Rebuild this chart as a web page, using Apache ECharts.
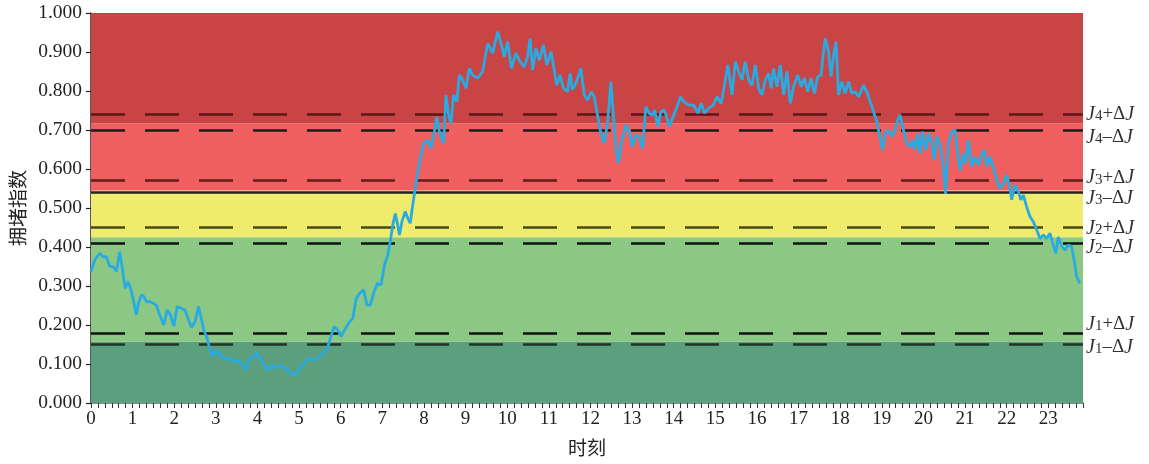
<!DOCTYPE html>
<html><head><meta charset="utf-8">
<script src="https://cdn.jsdelivr.net/npm/echarts@6/dist/echarts.min.js"></script>
<style>html,body{margin:0;padding:0;background:#fff}#c{width:1149px;height:464px}</style>
</head><body><div id="c"></div>
<script>
// time of day (hours)
const hours = [0,0.09,0.21,0.29,0.37,0.45,0.53,0.61,0.69,0.77,0.82,0.89,0.95,1.01,1.09,1.14,1.21,1.27,1.33,1.41,1.49,1.57,1.65,1.75,1.83,1.91,1.99,2.07,2.17,2.26,2.33,2.41,2.50,2.58,2.65,2.71,2.79,2.85,2.93,3.01,3.09,3.17,3.25,3.33,3.41,3.53,3.62,3.73,3.80,3.88,4.00,4.08,4.16,4.24,4.36,4.44,4.56,
4.65,4.77,4.89,5.01,5.13,5.23,5.33,5.45,5.57,5.68,5.75,5.84,5.93,6.01,6.09,6.21,6.29,6.37,6.45,6.55,6.63,6.71,6.80,6.88,6.97,7.05,7.13,7.19,7.25,7.31,7.37,7.41,7.47,7.55,7.61,7.67,7.73,7.79,7.85,7.91,7.99,8.09,8.17,8.25,8.31,8.37,8.47,8.53,8.59,8.65,8.71,8.79,8.85,8.93,9.01,9.09,9.17,9.29,9.41,
9.53,9.65,9.77,9.85,9.93,10.01,10.10,10.21,10.31,10.41,10.49,10.55,10.61,10.69,10.77,10.87,10.95,11.05,11.13,11.19,11.27,11.35,11.45,11.51,11.57,11.65,11.77,11.85,11.93,12.02,12.09,12.17,12.25,12.33,12.41,12.49,12.56,12.61,12.67,12.74,12.85,12.93,13.01,13.08,13.17,13.25,13.33,13.41,13.49,13.54,13.62,13.69,13.77,13.83,13.89,13.97,14.05,14.16,14.24,
14.36,14.48,14.58,14.66,14.74,14.84,14.95,15.04,15.14,15.22,15.30,15.40,15.48,15.56,15.64,15.72,15.80,15.88,15.96,16.04,16.12,16.20,16.28,16.34,16.40,16.48,16.56,16.64,16.72,16.80,16.88,16.98,17.06,17.14,17.22,17.30,17.38,17.46,17.54,17.59,17.64,17.72,17.78,17.84,17.90,17.96,18.04,18.12,18.20,18.28,18.36,18.44,18.56,18.64,18.72,18.80,18.88,
18.92,19.02,19.08,19.16,19.24,19.32,19.38,19.44,19.52,19.60,19.68,19.74,19.80,19.86,19.92,19.98,20.06,20.12,20.20,20.26,20.32,20.40,20.48,20.53,20.60,20.68,20.76,20.82,20.88,20.96,21.01,21.08,21.16,21.24,21.32,21.40,21.46,21.52,21.60,21.68,21.76,21.84,21.92,22.00,22.08,22.12,22.20,22.28,22.34,22.40,22.48,22.56,22.64,22.72,22.80,22.88,22.96,23.04,23.12,23.18,23.24,23.32,23.40,23.48,23.56,23.62,23.68,23.76];
// congestion index
const values = [0.337,0.367,0.384,0.375,0.375,0.350,0.350,0.337,0.388,0.333,0.294,0.311,0.294,0.268,0.226,0.256,0.277,0.273,0.260,0.260,0.256,0.251,0.226,0.200,0.238,0.226,0.197,0.247,0.243,0.238,0.217,0.194,0.208,0.247,0.217,0.187,0.166,0.140,0.119,0.136,0.123,0.119,0.110,0.115,0.106,0.108,0.102,0.085,0.115,0.119,0.127,0.110,0.097,0.085,0.097,0.089,0.097,
0.089,0.080,0.070,0.089,0.102,0.115,0.110,0.115,0.127,0.140,0.166,0.196,0.187,0.170,0.187,0.208,0.217,0.268,0.281,0.290,0.251,0.251,0.285,0.307,0.303,0.354,0.379,0.414,0.456,0.486,0.456,0.431,0.465,0.491,0.474,0.461,0.508,0.550,0.593,0.627,0.666,0.674,0.653,0.696,0.734,0.696,0.665,0.790,0.738,0.717,0.790,0.773,0.841,0.828,0.807,0.858,0.841,0.833,0.850,
0.922,0.897,0.952,0.922,0.888,0.927,0.858,0.897,0.875,0.862,0.888,0.935,0.854,0.909,0.879,0.918,0.867,0.901,0.854,0.815,0.841,0.807,0.798,0.845,0.803,0.820,0.858,0.790,0.777,0.798,0.785,0.738,0.691,0.666,0.717,0.824,0.726,0.657,0.615,0.666,0.713,0.696,0.657,0.687,0.683,0.653,0.760,0.743,0.738,0.751,0.709,0.747,0.751,0.734,0.709,0.730,0.751,0.785,0.773,
0.764,0.764,0.743,0.768,0.743,0.756,0.764,0.785,0.768,0.815,0.867,0.790,0.875,0.850,0.828,0.875,0.828,0.815,0.867,0.807,0.790,0.828,0.845,0.807,0.858,0.811,0.867,0.790,0.850,0.768,0.811,0.841,0.811,0.833,0.798,0.833,0.794,0.837,0.841,0.892,0.935,0.901,0.837,0.892,0.927,0.790,0.824,0.794,0.824,0.794,0.798,0.785,0.815,0.798,0.773,0.747,0.721,
0.726,0.649,0.691,0.700,0.683,0.700,0.726,0.738,0.700,0.666,0.657,0.674,0.649,0.691,0.640,0.696,0.649,0.691,0.666,0.623,0.683,0.662,0.606,0.536,0.666,0.696,0.700,0.640,0.597,0.640,0.615,0.674,0.606,0.632,0.610,0.636,0.649,0.606,0.632,0.602,0.572,0.550,0.563,0.585,0.550,0.521,0.559,0.542,0.521,0.533,0.503,0.478,0.465,0.444,0.422,0.431,0.422,0.435,0.405,0.384,0.426,0.401,0.392,0.405,0.401,0.367,0.324,0.307];
// tick labels on the time axis
const xTickLabels = ['0','1','2','3','4','5','6','7','8','9','10','11','12','13','14','15','16','17','18','19','20','21','22','23'];
// zone boundaries (index)
const zoneBounds = [0, 0.158, 0.425, 0.545, 0.717, 1.0];
// threshold lines J_k ± ΔJ
const thresholdLevel = [4, 4, 3, 3, 2, 2, 1, 1];
const thresholdSign = ['+', '–', '+', '–', '+', '–', '+', '–'];
const thresholdValues = [0.736, 0.705, 0.567, 0.540, 0.449, 0.407, 0.180, 0.155];

// ---- styles ----
const zoneColors = ['#5b9f7c', '#8bc883', '#efeb6c', '#f05f5f', '#c94445'];
const lineColors = ['rgba(70,15,15,0.85)', '#1c1c1c', 'rgba(70,15,15,0.85)', '#222', 'rgba(45,45,10,0.85)', '#111', '#111', 'rgba(25,40,30,0.9)'];
const lineTypes = ['d', 'd', 'd', 's', 'd', 'd', 'd', 'd'];
const labelShift = [0, 7, -3, 6, 1, 4, -9, 3];
const serif = '"Liberation Serif","Times New Roman",serif';
const cjk = '"Noto Sans CJK SC","Noto Sans",sans-serif';

const MAXMIN = 143 * 10; // 23:50
const lineData = hours.map((h, i) => [h * 60, values[i]]);

const areas = [];
for (let i = 0; i < zoneColors.length; i++) {
  areas.push([{ yAxis: zoneBounds[i], itemStyle: { color: zoneColors[i], opacity: 1 } }, { yAxis: zoneBounds[i + 1] }]);
}
const marks = thresholdValues.map((v, i) => {
  const shift = labelShift[i];
  const pad = shift >= 0 ? [2 * shift, 0, 0, 0] : [0, 0, -2 * shift, 0];
  return {
    yAxis: v,
    lineStyle: {
      color: lineColors[i],
      width: 2.6,
      type: lineTypes[i] === 's' ? 'solid' : [34, 20]
    },
    label: {
      show: true,
      position: 'end',
      distance: 3,
      padding: pad,
      formatter: '{j|J}{s|' + thresholdLevel[i] + '}{n|' + thresholdSign[i] + 'Δ}{j|J}',
      rich: {
        j: { fontFamily: serif, fontStyle: 'italic', fontSize: 20, color: '#333', lineHeight: 19, verticalAlign: 'top' },
        n: { fontFamily: serif, fontSize: 19, color: '#333', lineHeight: 19, verticalAlign: 'top' },
        s: { fontFamily: serif, fontSize: 15, color: '#333', lineHeight: 14, verticalAlign: 'bottom', padding: [10, 0, 0, 0] }
      }
    }
  };
});

const chart = echarts.init(document.getElementById('c'), null, { renderer: 'canvas' });
chart.setOption({
  animation: false,
  backgroundColor: '#fff',
  grid: { left: 91, right: 66, top: 13, bottom: 61, containLabel: false },
  xAxis: {
    type: 'value', min: 0, max: MAXMIN, interval: 10,
    name: '时刻', nameLocation: 'middle', nameGap: 35,
    nameTextStyle: { fontFamily: cjk, fontSize: 19, color: '#222' },
    axisLine: { show: true, onZero: false, lineStyle: { color: '#666', width: 1.5 } },
    axisTick: { show: true, length: 5, lineStyle: { color: '#333', width: 1 } },
    axisLabel: {
      margin: 7, fontFamily: serif, fontSize: 19, color: '#222',
      formatter: v => (v % 60 === 0 && v / 60 < xTickLabels.length) ? xTickLabels[v / 60] : ''
    },
    splitLine: { show: false }
  },
  yAxis: {
    type: 'value', min: 0, max: 1, interval: 0.1,
    name: '拥堵指数', nameLocation: 'middle', nameGap: 64, nameRotate: 90,
    nameTextStyle: { fontFamily: cjk, fontSize: 19, color: '#222' },
    axisLine: { show: true, lineStyle: { color: '#222', width: 1.5 } },
    axisTick: { show: true, length: 5, lineStyle: { color: '#222', width: 1.2 } },
    axisLabel: { margin: 9, fontFamily: serif, fontSize: 19.5, color: '#222', formatter: v => v.toFixed(3) },
    splitLine: { show: false }
  },
  series: [
    {
      type: 'line', data: [], z: 1, silent: true,
      markArea: { silent: true, data: areas },
      markLine: { silent: true, symbol: ['none', 'none'], animation: false, data: marks }
    },
    {
      type: 'line', data: lineData, z: 5, showSymbol: false, symbol: 'none', silent: true,
      lineStyle: { color: '#29abe2', width: 2.8 }
    }
  ]
});
</script></body></html>
